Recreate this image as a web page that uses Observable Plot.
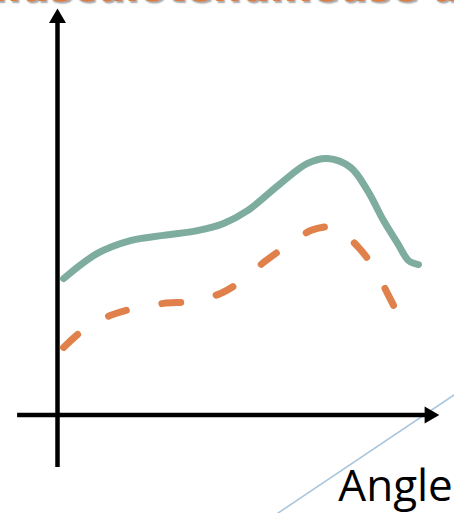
<!DOCTYPE html>
<html>
<head>
<meta charset="utf-8">
<script src="https://cdn.jsdelivr.net/npm/d3@7"></script>
<script src="https://cdn.jsdelivr.net/npm/@observablehq/plot@0.6"></script>
<style>
  html, body { margin: 0; padding: 0; background: #fff; overflow: hidden; }
  #chart svg { display: block; overflow: visible; }
</style>
</head>
<body>
<div id="chart"></div>
<script>
// Passive (solid) force curve across the joint angle
const passiveAngle = [1.6, 10.5, 19.2, 27.9, 36.8, 43.7, 50.0, 58.7, 65.8, 71.1, 77.1, 81.6, 85.8, 89.5, 92.4, 95.0];
const passiveForce = [34.1, 40.4, 43.6, 44.9, 46.1, 47.9, 51.1, 57.9, 62.9, 64.1, 61.9, 56.1, 48.6, 42.9, 38.6, 37.6];

// Active (dashed) force curve across the joint angle
const activeAngle = [1.6, 6.6, 13.9, 20.0, 27.9, 35.0, 42.9, 48.2, 54.2, 60.0, 66.6, 71.1, 73.2, 79.2, 83.2, 87.1, 90.0];
const activeForce = [16.9, 21.1, 24.9, 26.6, 27.9, 28.4, 30.4, 33.4, 38.1, 42.1, 46.1, 47.1, 46.9, 41.9, 36.9, 29.9, 24.4];

const titleText = "Force musculotendineuse active";
const xLabel = "Angle";

const passive = passiveAngle.map((a, i) => ({angle: a, force: passiveForce[i]}));
const active = activeAngle.map((a, i) => ({angle: a, force: activeForce[i]}));

const green = "#7eada0";
const orange = "#e0804a";

const chart = Plot.plot({
  width: 454,
  height: 513,
  marginLeft: 57,
  marginRight: 17,
  marginTop: 14.5,
  marginBottom: 98.5,
  x: {domain: [0, 100], axis: null},
  y: {domain: [0, 100], axis: null},
  marks: [
    // thin decorative diagonal
    Plot.link([0], {x1: 57.9, y1: -24.6, x2: 104.5, y2: 5.1, stroke: "#a9c6de", strokeWidth: 1.6}),
    // axes with filled arrowheads
    Plot.ruleX([0], {y1: -13.1, y2: 98.7, stroke: "#000", strokeWidth: 4.5}),
    Plot.ruleY([0], {x1: -10.5, x2: 97.9, stroke: "#000", strokeWidth: 4.5}),
    Plot.dot([0], {x: 0, y: 99.2, symbol: "triangle", r: 6.3, fill: "#000", stroke: null}),
    Plot.dot([0], {x: 97.9, y: 0, symbol: "triangle", r: 6.3, rotate: 90, fill: "#000", stroke: null}),
    // curves
    Plot.line(passive, {x: "angle", y: "force", curve: "catmull-rom", stroke: green, strokeWidth: 7, strokeLinecap: "round"}),
    Plot.line(active, {x: "angle", y: "force", curve: "catmull-rom", stroke: orange, strokeWidth: 7, strokeLinecap: "round", strokeDasharray: "19,36"}),
    // heading
    Plot.text([titleText], {x: -56.8, y: 103.5, text: d => d, textAnchor: "start", lineAnchor: "bottom", fill: "#e07b3f", fontFamily: "DejaVu Sans", fontWeight: "bold", fontSize: 40}),
    // axis label
    Plot.text([xLabel], {x: 73.9, y: -21.6, text: d => d, textAnchor: "start", lineAnchor: "bottom", fill: "#000", fontFamily: "Open Sans", fontSize: 44})
  ]
});

// soft drop shadow under the heading
d3.select(chart).selectAll("text")
  .filter(function() { return this.textContent === titleText; })
  .style("text-shadow", "1.5px 1.5px 1.5px rgba(110,110,110,0.6)");

document.getElementById("chart").append(chart);
</script>
</body>
</html>
